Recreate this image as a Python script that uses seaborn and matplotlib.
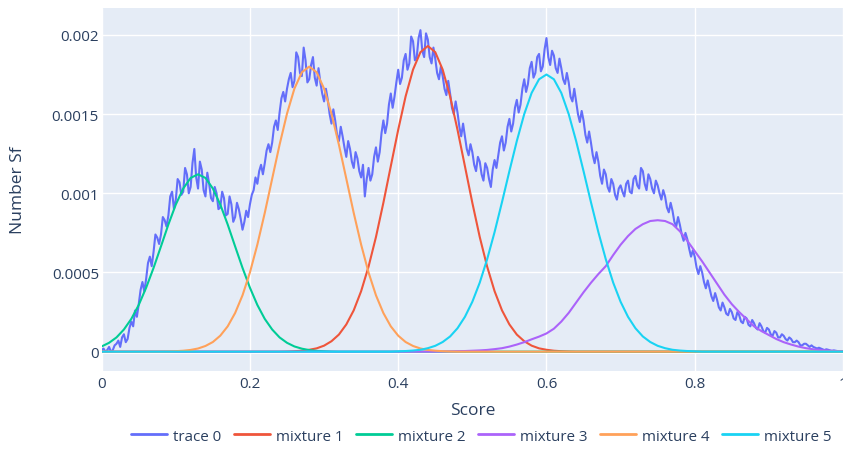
import numpy as np
import pandas as pd
import matplotlib
matplotlib.use("Agg")
import matplotlib.pyplot as plt
import seaborn as sns

# ---------------- data (units of 1e-4) ----------------
trace0 = [
    0.1, 0.2, 0.0, 0.1, 0.3, 0.0, 0.1, 0.4, 0.5, 0.7, 0.3, 0.9, 1.1, 0.6, 0.8, 1.5, 1.9, 1.6, 2.6, 2.2,
    3.0, 3.9, 4.4, 3.8, 4.6, 5.6, 6.0, 5.4, 6.3, 7.4, 7.2, 6.8, 7.4, 8.5, 8.3, 7.9, 8.6, 9.8, 10.1, 9.0,
    9.6, 10.9, 10.7, 9.9, 10.1, 11.6, 11.2, 10.0, 10.4, 11.9, 12.8, 11.0, 10.3, 12.0, 11.5, 10.2, 9.8, 11.3, 10.6, 9.7,
    9.5, 10.4, 10.0, 9.0, 9.1, 10.1, 9.7, 8.6, 8.7, 9.8, 9.3, 8.2, 8.5, 9.4, 9.0, 8.4, 7.7, 8.2, 8.9, 8.5,
    9.3, 9.9, 10.2, 11.0, 10.6, 11.4, 11.8, 11.2, 11.9, 12.7, 13.1, 12.6, 13.2, 14.2, 14.6, 14.0, 15.1, 16.0, 16.4, 15.8,
    16.6, 17.2, 17.6, 16.7, 17.1, 18.9, 18.6, 17.6, 17.4, 19.2, 18.4, 17.0, 17.2, 18.1, 18.6, 17.3, 16.8, 17.9, 17.0, 16.3,
    15.8, 16.6, 15.9, 15.0, 14.4, 15.3, 14.6, 13.7, 13.3, 14.2, 13.6, 12.9, 12.3, 13.3, 12.8, 12.0, 11.6, 12.6, 12.2, 11.4,
    11.0, 11.8, 9.8, 10.9, 11.6, 10.8, 11.2, 12.3, 12.9, 12.0, 12.6, 13.8, 14.6, 13.8, 14.4, 15.6, 16.3, 15.4, 16.1, 17.0,
    17.8, 16.9, 17.3, 18.4, 18.8, 17.8, 18.2, 19.9, 19.6, 18.4, 18.6, 19.8, 20.3, 19.0, 18.6, 20.1, 19.7, 18.6, 18.2, 19.2,
    18.5, 17.6, 17.2, 18.0, 17.4, 16.6, 16.2, 17.1, 16.3, 15.4, 15.0, 15.8, 15.1, 14.2, 13.6, 14.4, 13.6, 12.8, 12.4, 13.1,
    12.6, 11.8, 11.4, 12.3, 12.0, 11.2, 10.8, 11.9, 11.6, 10.9, 10.4, 11.5, 12.1, 11.6, 12.4, 13.2, 13.6, 12.7, 13.2, 14.2,
    14.7, 13.9, 14.4, 15.4, 15.9, 15.1, 15.6, 16.6, 17.2, 16.4, 16.9, 17.9, 18.3, 17.3, 17.6, 18.6, 18.8, 17.7, 18.0, 19.1,
    19.8, 18.6, 18.1, 19.0, 18.7, 17.9, 17.6, 18.5, 17.9, 17.2, 16.9, 17.6, 17.0, 16.1, 15.8, 16.6, 15.8, 15.0, 14.5, 15.2,
    14.6, 13.7, 13.2, 13.9, 13.2, 12.4, 11.9, 12.6, 12.0, 11.1, 10.6, 11.5, 11.2, 10.4, 10.1, 10.9, 10.6, 9.9, 9.6, 10.3,
    10.5, 10.1, 9.8, 10.6, 10.8, 10.1, 10.0, 10.9, 11.1, 10.5, 10.3, 11.6, 11.4, 10.6, 10.2, 11.2, 10.9, 10.3, 10.0, 10.8,
    10.5, 10.0, 9.6, 10.2, 9.8, 9.1, 8.8, 9.4, 8.9, 8.2, 7.9, 8.5, 8.0, 7.4, 7.0, 7.5, 7.1, 6.5, 6.0, 6.4,
    6.0, 5.3, 4.9, 5.4, 5.0, 4.4, 4.0, 4.5, 4.0, 3.5, 3.2, 3.7, 3.3, 2.8, 2.6, 3.1, 2.8, 2.4, 2.3, 2.7,
    2.5, 2.1, 2.0, 2.5, 2.3, 1.9, 1.8, 2.2, 2.1, 1.7, 1.6, 2.0, 1.8, 1.5, 1.4, 1.8, 1.6, 1.3, 1.2, 1.5,
    1.4, 1.1, 1.0, 1.3, 1.2, 0.9, 0.9, 1.1, 1.0, 0.8, 0.7, 0.9, 0.8, 0.6, 0.6, 0.7, 0.6, 0.4, 0.4, 0.5,
    0.5, 0.4, 0.3, 0.4, 0.3, 0.25, 0.2, 0.25, 0.2, 0.15, 0.1, 0.15, 0.12, 0.08, 0.05, 0.08, 0.06, 0.04, 0.02, 0.03,
    0.02,
]

# mixtures on a 0.01 grid from 0 to 1 (101 values)
mixture1 = (
    [0.0] * 25
    + [0.01, 0.03, 0.06, 0.12, 0.21, 0.38, 0.66, 1.08, 1.72, 2.61,
       3.82, 5.37, 7.24, 9.40, 11.71, 14.01, 16.12, 17.81, 18.91, 19.3,
       18.91, 17.81, 16.12, 14.01, 11.71, 9.40, 7.24, 5.37, 3.82, 2.61,
       1.72, 1.08, 0.66, 0.38, 0.21, 0.12, 0.06, 0.03, 0.01]
    + [0.0] * 37
)
mixture2 = (
    [0.33, 0.56, 0.90, 1.40, 2.07, 2.95, 4.04, 5.29, 6.65, 8.03,
     9.29, 10.30, 10.97, 11.2, 10.97, 10.30, 9.29, 8.03, 6.65, 5.29,
     4.04, 2.95, 2.07, 1.40, 0.90, 0.56, 0.33, 0.19, 0.10, 0.05,
     0.03, 0.01]
    + [0.0] * 69
)
mixture3 = (
    [0.0] * 46
    + [0.01, 0.02, 0.03, 0.04, 0.06, 0.08, 0.11, 0.16, 0.22, 0.32,
       0.45, 0.60, 0.78, 0.95, 1.15, 1.45, 1.9, 2.45, 3.1, 3.75,
       4.35, 4.9, 5.4, 6.1, 6.75, 7.3, 7.75, 8.05, 8.25, 8.3,
       8.25, 8.05, 7.6, 7.0, 6.35, 5.7, 5.0, 4.3, 3.6, 3.0,
       2.5, 2.05, 1.6, 1.3, 1.05, 0.8, 0.6, 0.45, 0.32, 0.22,
       0.15, 0.10, 0.07, 0.04, 0.03]
)
mixture4 = (
    [0.0] * 9
    + [0.01, 0.03, 0.06, 0.11, 0.20, 0.36, 0.61, 1.01, 1.60, 2.44,
       3.56, 5.00, 6.76, 8.76, 10.92, 13.07, 15.03, 16.61, 17.64, 18.0,
       17.64, 16.61, 15.03, 13.07, 10.92, 8.76, 6.76, 5.00, 3.56, 2.44,
       1.60, 1.01, 0.61, 0.36, 0.20, 0.11, 0.06, 0.03, 0.01]
    + [0.0] * 53
)
mixture5 = (
    [0.0] * 40
    + [0.02, 0.04, 0.07, 0.12, 0.22, 0.37, 0.61, 0.96, 1.48, 2.20,
       3.15, 4.36, 5.84, 7.55, 9.44, 11.40, 13.30, 15.00, 16.34, 17.20,
       17.5, 17.20, 16.34, 15.00, 13.30, 11.40, 9.44, 7.55, 5.84, 4.36,
       3.15, 2.20, 1.48, 0.96, 0.61, 0.37, 0.22, 0.12, 0.07, 0.04, 0.02]
    + [0.0] * 20
)

series_names = ["trace 0", "mixture 1", "mixture 2", "mixture 3", "mixture 4", "mixture 5"]
series_vals = [trace0, mixture1, mixture2, mixture3, mixture4, mixture5]
colors = ["#636EFA", "#EF553B", "#00CC96", "#AB63FA", "#FFA15A", "#19D3F3"]

x_ticks = [0, 0.2, 0.4, 0.6, 0.8, 1]
x_tick_labels = ["0", "0.2", "0.4", "0.6", "0.8", "1"]
y_ticks = [0, 0.0005, 0.001, 0.0015, 0.002]
y_tick_labels = ["0", "0.0005", "0.001", "0.0015", "0.002"]

# ---------------- plot ----------------
sns.set_theme(style="white")
plt.rcParams["font.family"] = ["Open Sans", "DejaVu Sans"]
text_color = "#2a3f5f"

fig = plt.figure(figsize=(8.43, 4.52), dpi=100)
ax = fig.add_axes([0.1206, 0.1777, 0.8794, 0.8024])
ax.set_facecolor("#E5ECF6")

for name, vals, col in zip(series_names, series_vals, colors):
    vals = np.asarray(vals, dtype=float) * 1e-4
    df = pd.DataFrame({"Score": np.linspace(0, 1, len(vals)), "val": vals})
    sns.lineplot(data=df, x="Score", y="val", ax=ax, color=col, linewidth=1.5,
                 label=name, estimator=None, sort=False, zorder=3)

ax.set_xlim(0, 1)
ax.set_ylim(-0.00012, 0.00217)
ax.set_xticks(x_ticks)
ax.set_xticklabels(x_tick_labels)
ax.set_yticks(y_ticks)
ax.set_yticklabels(y_tick_labels)
ax.grid(True, color="white", linewidth=1.0, zorder=0)
ax.axhline(0, color="white", linewidth=2.0, zorder=1)
ax.set_axisbelow(True)
for s in ax.spines.values():
    s.set_visible(False)
ax.tick_params(axis="both", length=0, labelsize=11, colors=text_color)
ax.tick_params(axis="x", pad=3.8)
ax.tick_params(axis="y", pad=2)
ax.set_xlabel("Score", fontsize=12.5, color=text_color)
ax.set_ylabel("Number Sf", fontsize=12.5, color=text_color)
ax.xaxis.label.set_va("center")
ax.yaxis.label.set_va("center")
ax.xaxis.set_label_coords(0.5, -0.1084)
ax.yaxis.set_label_coords(-0.113, 0.5)

handles, labels = ax.get_legend_handles_labels()
ax.get_legend().remove()
leg = fig.legend(handles, labels, loc="center", bbox_to_anchor=(0.571, 0.033),
                 ncol=6, frameon=False, fontsize=10.9, handlelength=2.35,
                 handletextpad=0.4, columnspacing=0.85, labelcolor=text_color)
for h in leg.get_lines():
    h.set_linewidth(2.0)

fig.savefig("out.png", dpi=100)
